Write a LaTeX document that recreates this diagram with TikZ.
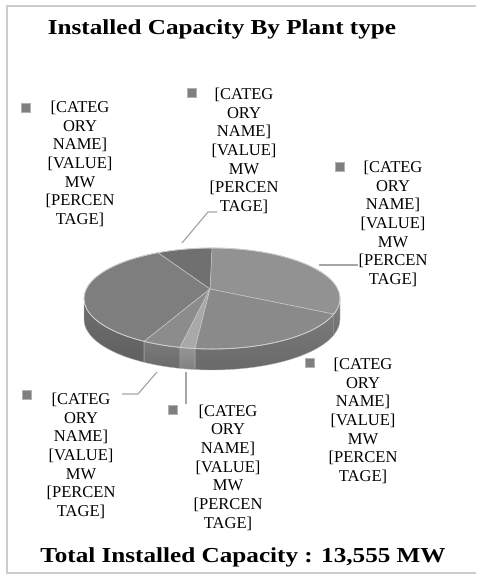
\documentclass[tikz,border=0pt]{standalone}
\usepackage{fontspec}
\setmainfont{Liberation Serif}
\usetikzlibrary{calc,positioning}

\definecolor{cRight}{HTML}{929292}
\definecolor{cDark}{HTML}{707070}
\definecolor{cLeft}{HTML}{7E7E7E}
\definecolor{cBL}{HTML}{8C8C8C}
\definecolor{cThin}{HTML}{A9A9A9}
\definecolor{cBR}{HTML}{8A8A8A}
\definecolor{cKey}{HTML}{7F7F7F}

\tikzset{
  lbl/.style={align=center,inner sep=0pt,font=\fontsize{12.4}{14}\selectfont},
  headline/.style={font=\fontsize{16}{18}\selectfont\bfseries,xscale=1.18,transform shape,inner sep=0pt,anchor=base},
  leader/.style={gray!70,line width=0.9pt},
  key/.style={fill=cKey,draw=gray!60,line width=0.3pt,minimum size=6.6pt,inner sep=0pt},
  frame/.style={gray!40,line width=1.6pt}
}

\begin{document}
\begin{tikzpicture}[x=0.75pt,y=0.75pt]

\useasboundingbox (0,0) rectangle (476,576);

% Keret
\draw[frame] (476,570) -- (7,570) -- (7,3) -- (476,3);

% Feliratok
\node[headline] (title) at (222,541) {Installed Capacity By Plant type};
\node[headline] (total) at (243,13) {Total Installed Capacity : 13,555 MW};

% Torta kozeppont es csucs
\coordinate (C) at (212,277.5);
\coordinate (V) at (210,287);

% Torta oldalfal
\foreach \a/\b/\c in {180/238/cLeft,238/255.5/cBL,255.5/262.4/cThin,262.4/342/cBR,342/360/cRight}{
\shade[top color=\c!88!black,bottom color=\c!76!black,draw=gray!55,line width=0.3pt]
  ($(C)+(\a:128 and 50.5)$) arc[start angle=\a,end angle=\b,x radius=128,y radius=50.5]
  -- ++(0,-21) arc[start angle=\b,end angle=\a,x radius=128,y radius=50.5] -- cycle;
}

% Torta szeletek
\foreach \a/\b/\c in {-18/90/cRight,90/115/cDark,115/238/cLeft,238/255.5/cBL,255.5/262.4/cThin,262.4/342/cBR}{
\fill[\c,draw=gray!45,line width=0.4pt] (V) -- ($(C)+(\a:128 and 50.5)$)
  arc[start angle=\a,end angle=\b,x radius=128,y radius=50.5] -- cycle;
}
\draw[gray!40,line width=0.6pt] (C) ellipse[x radius=128,y radius=50.5];

% Szelet feliratok
\foreach \nn/\xx/\yy in {lbL/80/412,lbT/244/425,lbR/393/352,lbBR/363/155,lbBM/228/108.5,lbBL/81/120}{
\node[lbl] (\nn) at (\xx,\yy) {{[}CATEG\\ORY\\NAME]\\{[}VALUE]\\MW\\{[}PERCEN\\TAGE]};
}

% Jelmagyarazat negyzetek
\foreach \nn/\xx/\yy in {kL/26/468,kT/192/483,kR/340/409,kBR/310/213,kBM/173/166,kBL/27/181}{
\node[key] (\nn) at (\xx,\yy) {};
}

% Vezeto vonalak
\coordinate (pR) at (319,311);
\draw[leader] (pR) -- (pR -| lbR.west);

\coordinate (pT) at (182,333);
\coordinate (bT) at (208,364);
\coordinate (eT) at (217,364);
\draw[leader] (pT) -- (bT) -- (eT);

\coordinate (pBL) at (157,204);
\coordinate (bBL) at (138,182);
\coordinate (eBL) at (122,182);
\draw[leader] (pBL) -- (bBL) -- (eBL);

\coordinate (pBM) at (186,204);
\draw[leader] (pBM) -- (pBM |- lbBM.north);

\end{tikzpicture}
\end{document}
